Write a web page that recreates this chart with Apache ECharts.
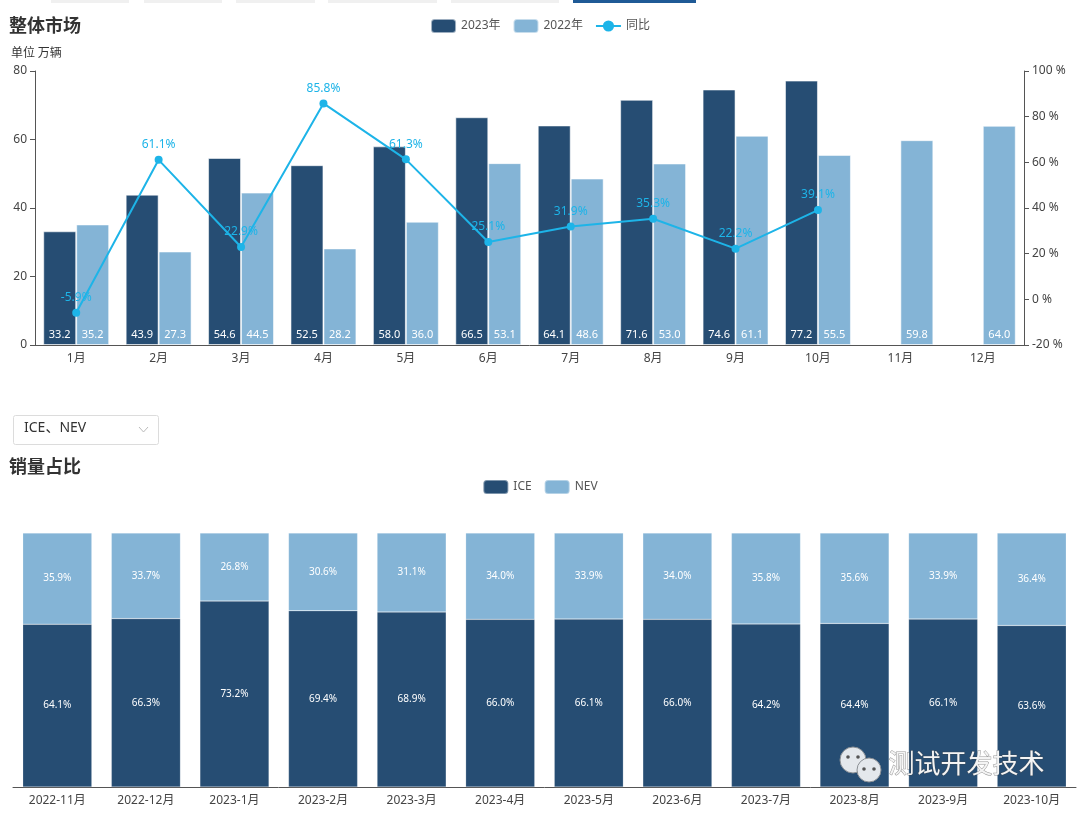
<!DOCTYPE html>
<html><head><meta charset="utf-8">
<script src="https://cdn.jsdelivr.net/npm/echarts@6/dist/echarts.min.js"></script>
<style>html,body{margin:0;padding:0;background:#fff}#c{width:1080px;height:815px}</style>
</head><body><div id="c"></div>
<script>
// ---- data ----
const months = ['1月','2月','3月','4月','5月','6月','7月','8月','9月','10月','11月','12月'];
const sales2023 = [33.2,43.9,54.6,52.5,58.0,66.5,64.1,71.6,74.6,77.2];
const sales2022 = [35.2,27.3,44.5,28.2,36.0,53.1,48.6,53.0,61.1,55.5,59.8,64.0];
const yoy = [-5.9,61.1,22.9,85.8,61.3,25.1,31.9,35.3,22.2,39.1];
const shareMonths = ['2022-11月','2022-12月','2023-1月','2023-2月','2023-3月','2023-4月','2023-5月','2023-6月','2023-7月','2023-8月','2023-9月','2023-10月'];
const iceShare = [64.1,66.3,73.2,69.4,68.9,66.0,66.1,66.0,64.2,64.4,66.1,63.6];
const nevShare = [35.9,33.7,26.8,30.6,31.1,34.0,33.9,34.0,35.8,35.6,33.9,36.4];

const DARK = '#264d73', LIGHT = '#84b4d6', CYAN = '#1db4e8';
const FONT = "'Noto Sans','Noto Sans CJK SC',sans-serif";
const axisCol = '#555';

const chart = echarts.init(document.getElementById('c'));
const tabs = [[51,129],[144,222],[236,315],[328,437],[451,559]];
const graphics = tabs.map(t => ({type:'rect', shape:{x:t[0], y:0, width:t[1]-t[0], height:3}, style:{fill:'#f0f0f0'}}));
graphics.push({type:'rect', shape:{x:573, y:0, width:123, height:3}, style:{fill:'#1f5a96'}});
graphics.push({type:'rect', shape:{x:13.5, y:415.5, width:145, height:29, r:2}, style:{fill:'#fff', stroke:'#dcdcdc', lineWidth:1}});
graphics.push({type:'text', left:24, top:421, style:{text:'ICE、NEV', font:"14px "+FONT, fill:'#333'}});
graphics.push({type:'polyline', shape:{points:[[139,427],[143.5,432],[148,427]]}, style:{stroke:'#bbb', lineWidth:1, fill:null}});
// watermark
graphics.push({type:'circle', z:100, shape:{cx:853, cy:760, r:13}, style:{fill:'#e4e8ec', stroke:'#8a8f94', lineWidth:1}});
graphics.push({type:'circle', z:101, shape:{cx:869, cy:770, r:12}, style:{fill:'#e4e8ec', stroke:'#8a8f94', lineWidth:1}});
[[848,757],[858,757]].forEach(p => graphics.push({type:'circle', z:100, shape:{cx:p[0], cy:p[1], r:1.8}, style:{fill:'#555'}}));
[[864,769],[874,769]].forEach(p => graphics.push({type:'circle', z:102, shape:{cx:p[0], cy:p[1], r:1.8}, style:{fill:'#555'}}));
graphics.push({type:'text', z:100, left:888, top:750, style:{text:'测试开发技术', font:"26px 'Noto Sans CJK SC',sans-serif", fill:'#f4f4f4', stroke:'rgba(70,70,70,0.55)', lineWidth:1}});

chart.setOption({
  textStyle:{fontFamily:FONT},
  animation:false,
  title:[
    {text:'整体市场', left:4, top:11, textStyle:{fontSize:18, fontWeight:'bold', color:'#333', fontFamily:"'Noto Sans CJK SC',sans-serif"}},
    {text:'单位 万辆', left:6, top:41, textStyle:{fontSize:12, fontWeight:'normal', color:'#333', fontFamily:"'Noto Sans CJK SC',sans-serif"}},
    {text:'销量占比', left:4, top:452, textStyle:{fontSize:18, fontWeight:'bold', color:'#333', fontFamily:"'Noto Sans CJK SC',sans-serif"}}
  ],
  legend:[
    {data:['2023年','2022年','同比'], top:13, left:'center', itemGap:12, textStyle:{fontSize:12, color:'#555'}},
    {data:['ICE','NEV'], top:474, left:'center', itemGap:12, textStyle:{fontSize:12, color:'#555'}}
  ],
  grid:[
    {left:35, right:56, top:71, height:274},
    {left:13, right:4, top:533, height:254}
  ],
  xAxis:[
    {type:'category', gridIndex:0, data:months, axisLine:{lineStyle:{color:axisCol}}, axisTick:{alignWithLabel:false}, axisLabel:{color:'#444', fontSize:12, margin:8}},
    {type:'category', gridIndex:1, data:shareMonths, axisLine:{lineStyle:{color:axisCol}}, axisLabel:{color:'#444', fontSize:12, margin:8}}
  ],
  yAxis:[
    {type:'value', gridIndex:0, min:0, max:80, interval:20, axisLine:{show:true, lineStyle:{color:axisCol}}, axisTick:{show:true}, splitLine:{show:false}, axisLabel:{color:'#444', fontSize:12}},
    {type:'value', gridIndex:0, min:-20, max:100, interval:20, position:'right', axisLine:{show:true, lineStyle:{color:axisCol}}, axisTick:{show:true}, splitLine:{show:false}, axisLabel:{color:'#444', fontSize:12, formatter:'{value} %'}},
    {type:'value', gridIndex:1, min:0, max:100, show:false}
  ],
  series:[
    {name:'2023年', type:'bar', xAxisIndex:0, yAxisIndex:0, data:sales2023, barWidth:'40%', barGap:'0%',
      itemStyle:{color:DARK, borderColor:'rgba(255,255,255,0.55)', borderWidth:1},
      label:{show:true, position:'insideBottom', color:'#fff', fontSize:11, formatter:p=>p.value.toFixed(1)}},
    {name:'2022年', type:'bar', xAxisIndex:0, yAxisIndex:0, data:sales2022, barWidth:'40%', barGap:'0%',
      itemStyle:{color:LIGHT, borderColor:'rgba(255,255,255,0.55)', borderWidth:1},
      label:{show:true, position:'insideBottom', color:'#fff', fontSize:11, formatter:p=>p.value.toFixed(1)}},
    {name:'同比', type:'line', xAxisIndex:0, yAxisIndex:1, data:yoy, symbol:'circle', symbolSize:8,
      lineStyle:{color:CYAN, width:2}, itemStyle:{color:CYAN},
      label:{show:true, position:'top', color:CYAN, fontSize:12, formatter:p=>p.value.toFixed(1)+'%'}},
    {name:'ICE', type:'bar', stack:'s', xAxisIndex:1, yAxisIndex:2, data:iceShare, barWidth:'78%',
      itemStyle:{color:DARK, borderColor:'rgba(255,255,255,0.4)', borderWidth:0.5},
      label:{show:true, position:'inside', color:'#fff', fontSize:10, formatter:p=>p.value.toFixed(1)+'%'}},
    {name:'NEV', type:'bar', stack:'s', xAxisIndex:1, yAxisIndex:2, data:nevShare, barWidth:'78%',
      itemStyle:{color:LIGHT, borderColor:'rgba(255,255,255,0.4)', borderWidth:0.5},
      label:{show:true, position:'inside', color:'#fff', fontSize:10, formatter:p=>p.value.toFixed(1)+'%'}}
  ],
  graphic:graphics
});
</script></body></html>
